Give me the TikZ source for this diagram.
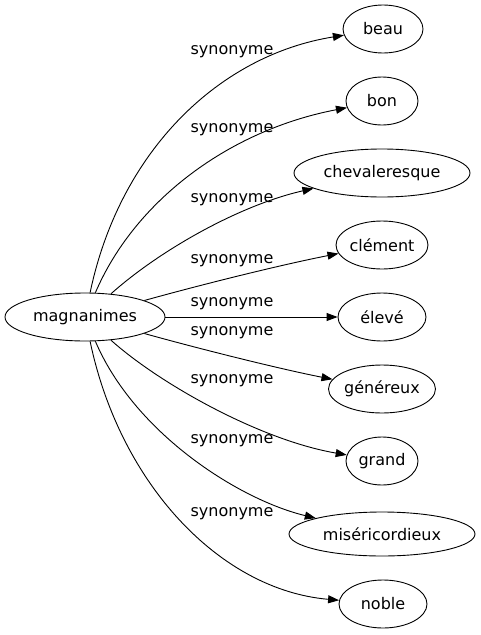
\documentclass[tikz,border=0pt]{standalone}
\usepackage{fontspec}
\setmainfont{DejaVu Sans}
\usetikzlibrary{arrows.meta,shapes.geometric}
\begin{document}
\begin{tikzpicture}[x=1pt,y=-1pt,
  word/.style={draw,ellipse,line width=0.9pt,inner sep=0pt,font=\fontsize{16}{19}\selectfont},
  lbl/.style={font=\fontsize{16}{19}\selectfont,inner sep=0pt},
  edge/.style={line width=0.9pt,-{Triangle[length=11pt,width=8pt]}}]
\useasboundingbox (0,0) rectangle (481,635);
\node[word,minimum width=160pt,minimum height=48pt] (m) at (85,317) {magnanimes};
\node[word,minimum width=80pt,minimum height=48pt] (beau) at (383,29) {beau};
\node[word,minimum width=72pt,minimum height=48pt] (bon) at (382,101) {bon};
\node[word,minimum width=176pt,minimum height=48pt] (chev) at (382,173) {chevaleresque};
\node[word,minimum width=92pt,minimum height=48pt] (clem) at (382,245) {clément};
\node[word,minimum width=88pt,minimum height=48pt] (elev) at (382,317) {élevé};
\node[word,minimum width=100pt,minimum height=48pt] (gene) at (382,389) {généreux};
\node[word,minimum width=72pt,minimum height=48pt] (gran) at (382,461) {grand};
\node[word,minimum width=186pt,minimum height=44pt] (mise) at (382,534) {miséricordieux};
\node[word,minimum width=88pt,minimum height=48pt] (nobl) at (383,604) {noble};
\draw[edge] (m) .. controls (120,150) and (220,55) .. (beau);
\draw[edge] (m) .. controls (135,200) and (230,130) .. (bon);
\draw[edge] (m) .. controls (160,250) and (240,205) .. (chev);
\draw[edge] (m) .. controls (200,285) and (280,265) .. (clem);
\draw[edge] (m) -- (elev);
\draw[edge] (m) .. controls (200,349) and (280,369) .. (gene);
\draw[edge] (m) .. controls (160,384) and (260,440) .. (gran);
\draw[edge] (m) .. controls (135,434) and (240,500) .. (mise);
\draw[edge] (m) .. controls (120,484) and (220,590) .. (nobl);
\node[lbl] (l1) at (232,52) {synonyme};
\node[lbl] (l2) at (232,130) {synonyme};
\node[lbl] (l3) at (232,200) {synonyme};
\node[lbl] (l4) at (232,261) {synonyme};
\node[lbl] (l5) at (232,304) {synonyme};
\node[lbl] (l6) at (232,333) {synonyme};
\node[lbl] (l7) at (232,381) {synonyme};
\node[lbl] (l8) at (232,441) {synonyme};
\node[lbl] (l9) at (232,514) {synonyme};
\end{tikzpicture}
\end{document}
